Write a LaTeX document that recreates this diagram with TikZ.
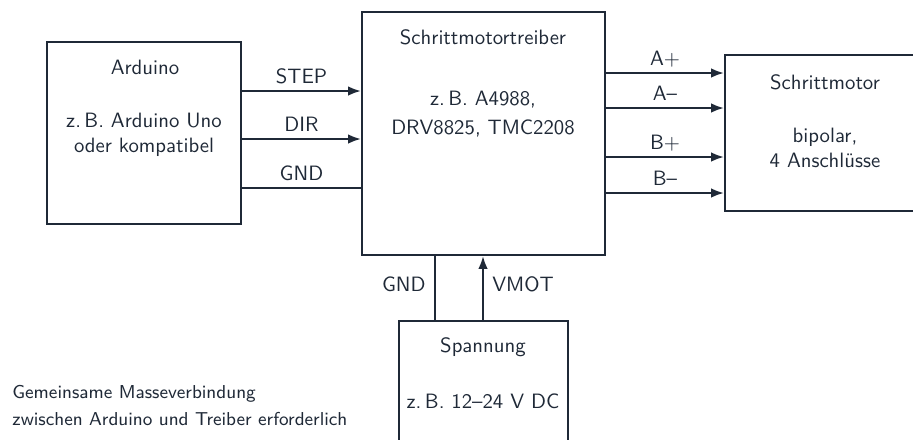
\documentclass[tikz,border=0pt]{standalone}
\usetikzlibrary{arrows.meta}
\definecolor{ink}{RGB}{31,41,55}
\begin{document}
\begin{tikzpicture}[x=0.4818pt,y=-0.4818pt,
  font=\sffamily,
  every node/.style={text=ink},
  box/.style={draw=ink,line width=1pt,inner sep=0pt},
  txt/.style={anchor=base,inner sep=0pt},
  arr/.style={draw=ink,line width=1pt,-{Latex[length=6.2pt,width=4.6pt]}},
  wire/.style={draw=ink,line width=1pt},
  lbl/.style={inner sep=3pt,text depth=0pt},
  vlbl/.style={inner sep=4pt,text depth=0pt}]
\useasboundingbox (0,0) rectangle (913,439);
\clip (0,0) rectangle (913,439);

% boxes
\node[box,minimum width=93.47pt,minimum height=87.69pt] (ard) at (144,133) {};
\node[box,minimum width=117.08pt,minimum height=117.08pt] (drv) at (483.5,133.5) {};
\node[box,minimum width=98.77pt,minimum height=75.16pt] (mot) at (827.5,133) {};
\node[box,minimum width=81.42pt,minimum height=71.8pt] (sp) at (483.5,395.5) {};

% box texts
\node[txt] (t1) at (145,74) {Arduino};
\node[txt] (t2) at (144,127) {z.\,B. Arduino Uno};
\node[txt] (t3) at (144,152) {oder kompatibel};
\node[txt] (t4) at (483,44) {Schrittmotortreiber};
\node[txt] (t5) at (483,105) {z.\,B. A4988,};
\node[txt] (t6) at (483,134) {DRV8825, TMC2208};
\node[txt] (t7) at (825,89) {Schrittmotor};
\node[txt] (t8) at (825,142) {bipolar,};
\node[txt] (t9) at (825,167) {4 Anschlüsse};
\node[txt] (t10) at (483,352) {Spannung};
\node[txt] (t11) at (483,408) {z.\,B. 12--24 V DC};

% level coordinates
\coordinate (ys) at (0,91);
\coordinate (yd) at (0,139);
\coordinate (yg) at (0,188);
\coordinate (ya) at (0,73);
\coordinate (yb) at (0,108);
\coordinate (yc) at (0,157);
\coordinate (ye) at (0,193);
\coordinate (xg) at (435,0);
\coordinate (xv) at (483,0);

% Arduino -> driver
\draw[arr] (ard.east |- ys) -- node[above,lbl] (lstep) {STEP} (drv.west |- ys);
\draw[arr] (ard.east |- yd) -- node[above,lbl] (ldir) {DIR} (drv.west |- yd);
\draw[wire] (ard.east |- yg) -- node[above,lbl] (lgnd) {GND} (drv.west |- yg);

% driver -> motor
\draw[arr] (drv.east |- ya) -- node[above,lbl] (la1) {A$+$} (mot.west |- ya);
\draw[arr] (drv.east |- yb) -- node[above,lbl] (la2) {A--} (mot.west |- yb);
\draw[arr] (drv.east |- yc) -- node[above,lbl] (lb1) {B$+$} (mot.west |- yc);
\draw[arr] (drv.east |- ye) -- node[above,lbl] (lb2) {B--} (mot.west |- ye);

% supply
\draw[wire] (drv.south -| xg) -- node[left,vlbl,pos=0.44] (lg2) {GND} (sp.north -| xg);
\draw[arr] (sp.north -| xv) -- node[right,vlbl,pos=0.56] (lv) {VMOT} (drv.south -| xv);

% note
\node[txt,anchor=base west,font=\sffamily\small] (n1) at (12,398) {Gemeinsame Masseverbindung};
\node[txt,anchor=base west,font=\sffamily\small] (n2) at (12,425) {zwischen Arduino und Treiber erforderlich};
\end{tikzpicture}
\end{document}
